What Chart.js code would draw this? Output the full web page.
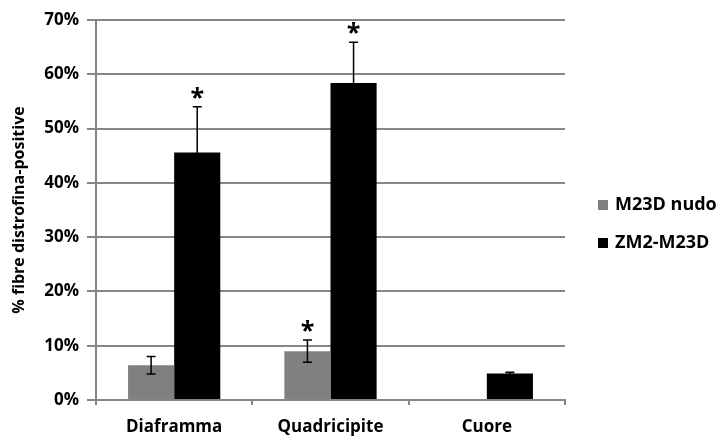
<!DOCTYPE html>
<html>
<head>
<meta charset="utf-8">
<script src="https://cdn.jsdelivr.net/npm/chart.js@4.4.1/dist/chart.umd.min.js"></script>
<style>
  html, body { margin: 0; padding: 0; background: #ffffff; }
  #wrap { width: 720px; height: 439px; position: relative; }
</style>
</head>
<body>
<div id="wrap"><canvas id="chart" width="720" height="439"></canvas></div>
<script>
// Muscle groups on the x axis
const categories = ['Diaframma', 'Quadricipite', 'Cuore'];

// Mean percentage of dystrophin-positive fibres per treatment
const seriesNames = ['M23D nudo', 'ZM2-M23D'];
const nudoValues = [6.4, 9.0, 0];
const zm2Values = [45.6, 58.4, 4.9];

// Standard errors
const nudoErrors = [1.6, 2.05, 0];
const zm2Errors = [8.4, 7.5, 0.2];

// Significance markers (asterisk above the error bar)
const nudoSignificant = [false, true, false];
const zm2Significant = [true, true, false];

// Y axis ticks
const yTicks = [0, 10, 20, 30, 40, 50, 60, 70];

const FONT = "'Open Sans', 'Liberation Sans', sans-serif";
const GRID = '#868686';

const errorBarsPlugin = {
  id: 'errorBars',
  afterDatasetsDraw(chart) {
    const ctx = chart.ctx;
    const y = chart.scales.y;
    chart.data.datasets.forEach((ds, di) => {
      const meta = chart.getDatasetMeta(di);
      meta.data.forEach((bar, i) => {
        const v = ds.data[i];
        const e = ds.errors[i];
        if (!v) return;
        const x = bar.x;
        const top = y.getPixelForValue(v + e);
        const bot = y.getPixelForValue(Math.max(0, v - e));
        ctx.save();
        ctx.strokeStyle = '#000';
        ctx.lineWidth = 1.5;
        if (e > 0) {
          ctx.beginPath();
          ctx.moveTo(x, top); ctx.lineTo(x, bot);
          ctx.moveTo(x - 4.5, top); ctx.lineTo(x + 4.5, top);
          ctx.moveTo(x - 4.5, bot); ctx.lineTo(x + 4.5, bot);
          ctx.stroke();
        }
        if (ds.significant[i]) {
          ctx.fillStyle = '#000';
          ctx.font = 'bold 25px ' + FONT;
          ctx.textAlign = 'center';
          ctx.textBaseline = 'alphabetic';
          ctx.fillText('*', x, top - 1);
        }
        ctx.restore();
      });
    });
  }
};

const legendPlugin = {
  id: 'sideLegend',
  afterDraw(chart) {
    const ctx = chart.ctx;
    const rows = [205, 243];
    ctx.save();
    chart.data.datasets.forEach((ds, di) => {
      const cy = rows[di];
      ctx.fillStyle = ds.backgroundColor;
      ctx.fillRect(598, cy - 5, 10, 10);
      ctx.fillStyle = '#000';
      ctx.font = 'bold 18px ' + FONT;
      ctx.textAlign = 'left';
      ctx.textBaseline = 'middle';
      ctx.fillText(ds.label, 615, cy);
    });
    ctx.restore();
  }
};

new Chart(document.getElementById('chart'), {
  type: 'bar',
  data: {
    labels: categories,
    datasets: [
      { label: seriesNames[0], data: nudoValues, errors: nudoErrors, significant: nudoSignificant,
        backgroundColor: '#808080', borderWidth: 0 },
      { label: seriesNames[1], data: zm2Values, errors: zm2Errors, significant: zm2Significant,
        backgroundColor: '#000000', borderWidth: 0 }
    ]
  },
  plugins: [errorBarsPlugin, legendPlugin],
  options: {
    responsive: false,
    animation: false,
    layout: { padding: { left: 0, top: 20, right: 155, bottom: 0 } },
    datasets: { bar: { categoryPercentage: 0.59, barPercentage: 1.0 } },
    plugins: { legend: { display: false }, tooltip: { enabled: false } },
    scales: {
      x: {
        grid: { display: true, drawOnChartArea: false, color: GRID, lineWidth: 2, tickLength: 5 },
        border: { color: GRID, width: 2 },
        ticks: { color: '#000', font: { family: FONT, size: 17, weight: 'bold' }, padding: 12 },
        afterFit(scale) { scale.height = 39; }
      },
      y: {
        min: 0, max: 70,
        afterBuildTicks(scale) { scale.ticks = yTicks.map(v => ({ value: v })); },
        grid: { color: GRID, lineWidth: 2, tickLength: 9 },
        border: { color: GRID, width: 2 },
        ticks: { color: '#000', font: { family: FONT, size: 17, weight: 'bold' }, padding: 8,
                 callback: v => v + '%' },
        title: { display: true, text: '% fibre distrofina-positive', color: '#000',
                 font: { family: FONT, size: 16, weight: 'bold' }, padding: { top: 10, bottom: 4 } },
        afterFit(scale) { scale.width = 96; }
      }
    }
  }
});
</script>
</body>
</html>
